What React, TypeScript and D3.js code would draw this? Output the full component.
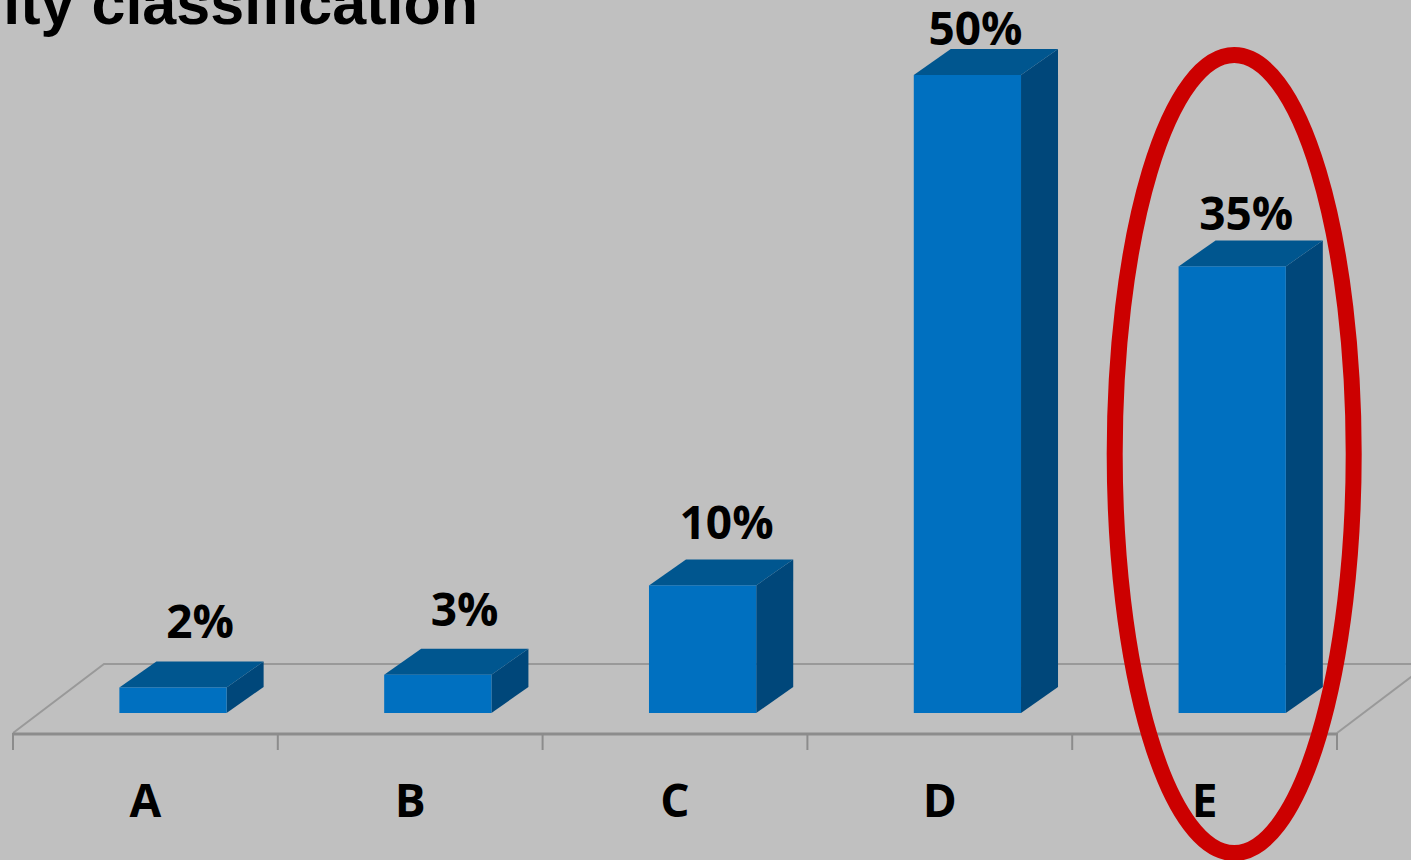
import React from "react";
import * as d3 from "d3";

const categories = ["A", "B", "C", "D", "E"];
const shares = [2, 3, 10, 50, 35];
const highlighted = "E";
const titleText = "Quality classification";

const W = 1411;
const H = 860;

// 3D geometry of the column chart
const depthDx = 37;
const depthDy = -26;
const floorDx = 91;
const floorDy = -69;
const floorFrontY = 733;
const barBaseY = 713;

const BG = "#c0c0c0";
const FRONT = "#0070c0";
const TOP = "#00568f";
const SIDE = "#00477a";
const FONT = "'Open Sans', 'Noto Sans', sans-serif";

export default function App() {
  const x = d3.scaleBand<string>().domain(categories).range([13, 1337]).padding(0);
  const y = d3.scaleLinear().domain([0, 50]).range([barBaseY, 75]);
  const bw = x.bandwidth();
  const barW = bw * 0.405;
  const shift = 27.6; // bars sit mid-depth on the floor, so their fronts lie right of the band centre

  const [x0, x1] = x.range();
  const backY = floorFrontY + floorDy;

  const ring = {
    cx: (x(highlighted) ?? 0) + bw / 2 + shift + 2,
    cy: 454,
    rx: 119.5,
    ry: 399,
  };

  return (
    <svg width={W} height={H} style={{ position: "absolute", left: 0, top: 0, display: "block" }}>
      <rect x={0} y={0} width={W} height={H} fill={BG} />

      {/* Title, partly running past the top-left edge */}
      <text
        x={478}
        y={24}
        textAnchor="end"
        fontFamily="'Liberation Sans', Arial, sans-serif"
        fontWeight="bold"
        fontSize={61}
        fill="#000"
      >
        {titleText}
      </text>

      {/* Floor */}
      <path
        d={`M${x0},${floorFrontY} L${x0 + floorDx},${backY} L${x1 + floorDx},${backY}`}
        fill="none"
        stroke="#999"
        strokeWidth={2}
      />
      <path
        d={`M${x1},${floorFrontY} L${x1 + floorDx},${backY}`}
        fill="none"
        stroke="#999"
        strokeWidth={2}
      />
      <line x1={x0} x2={x1} y1={floorFrontY + 1} y2={floorFrontY + 1} stroke="#8c8c8c" strokeWidth={3} />
      {[...categories.map((c) => x(c) ?? 0), x1].map((t, i) => (
        <line key={i} x1={t} x2={t} y1={floorFrontY} y2={750} stroke="#8c8c8c" strokeWidth={2} />
      ))}

      {/* Bars */}
      {categories.map((c, i) => {
        const v = shares[i];
        const fl = (x(c) ?? 0) + bw / 2 + shift - barW / 2;
        const fr = fl + barW;
        const top = y(v);
        const bottom = y(0);
        return (
          <g key={c}>
            <path
              d={`M${fr},${bottom} L${fr + depthDx},${bottom + depthDy} L${fr + depthDx},${top + depthDy} L${fr},${top} Z`}
              fill={SIDE}
            />
            <path
              d={`M${fl},${top} L${fl + depthDx},${top + depthDy} L${fr + depthDx},${top + depthDy} L${fr},${top} Z`}
              fill={TOP}
            />
            <rect x={fl} y={top} width={barW} height={bottom - top} fill={FRONT} />
            <text
              x={fl + barW / 2 + 28 - 0.4 * v}
              y={top + depthDy - (24 - 0.4 * v)}
              textAnchor="middle"
              fontFamily={FONT}
              fontWeight="bold"
              fontSize={46}
              fill="#000"
            >
              {`${v}%`}
            </text>
          </g>
        );
      })}

      {/* Category labels */}
      {categories.map((c) => (
        <text
          key={c}
          x={(x(c) ?? 0) + bw / 2}
          y={817}
          textAnchor="middle"
          fontFamily={FONT}
          fontWeight="bold"
          fontSize={46}
          fill="#000"
        >
          {c}
        </text>
      ))}

      {/* Highlight ring */}
      <ellipse
        cx={ring.cx}
        cy={ring.cy}
        rx={ring.rx}
        ry={ring.ry}
        fill="none"
        stroke="#cc0000"
        strokeWidth={16}
      />
    </svg>
  );
}
